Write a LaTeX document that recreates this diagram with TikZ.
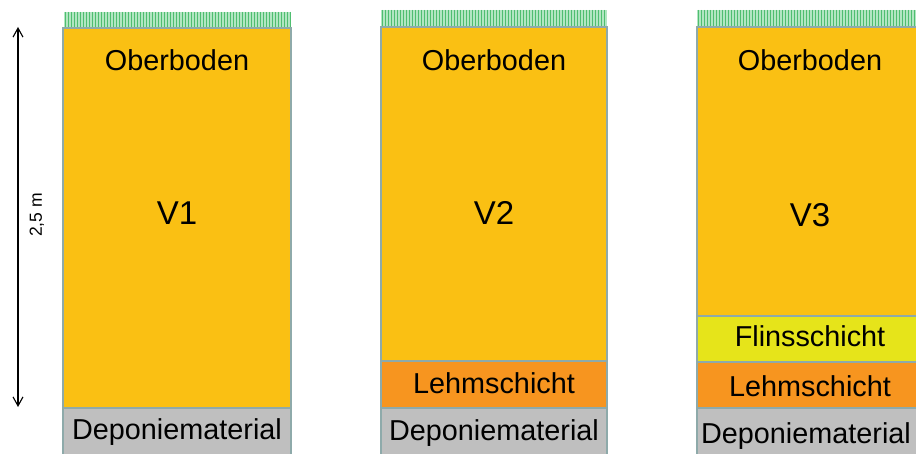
\documentclass[tikz,border=0pt]{standalone}
\usepackage{fontspec}
\setmainfont{Liberation Sans}
\usetikzlibrary{arrows.meta}
\definecolor{soil}{HTML}{FAC013}
\definecolor{lehm}{HTML}{F7951F}
\definecolor{flins}{HTML}{E6E41A}
\definecolor{depo}{HTML}{BFBFBF}
\definecolor{edge}{HTML}{8EAAAA}
\definecolor{grasslight}{HTML}{B2E6C2}
\definecolor{grassdark}{HTML}{4FBE70}
\tikzset{
  layer/.style={draw=edge, line width=2.4pt, inner sep=0pt, outer sep=0pt, anchor=north west, text=black},
  vlabel/.style={font=\fontsize{33}{36}\selectfont, text=black},
  toplabel/.style={font=\fontsize{28.8}{32}\selectfont, text=black},
  grassline/.style={grassdark, line width=0.9pt},
}
\begin{document}
\begin{tikzpicture}[x=1pt,y=-1pt]
\useasboundingbox (0,0) rectangle (916,454);
\fill[white] (0,0) rectangle (916,454);
\begin{scope}
\clip (0,0) rectangle (916,454);
% grass
\fill[grasslight] (64,12) rectangle (291,28);
\foreach \gx in {65,68,...,290} \draw[grassline] (\gx,12) -- (\gx,28);
\fill[grasslight] (381,10) rectangle (607,27);
\foreach \gx in {382,385,...,606} \draw[grassline] (\gx,10) -- (\gx,27);
\fill[grasslight] (697,10) rectangle (923,27);
\foreach \gx in {698,701,...,922} \draw[grassline] (\gx,10) -- (\gx,27);
% column 1
\node[layer, fill=soil, minimum width=228pt, minimum height=380pt] (c1soil) at (63,28) {};
\node[layer, fill=depo, minimum width=228pt, minimum height=50pt] (c1depo) at (63,408) {};
% column 2
\node[layer, fill=soil, minimum width=226pt, minimum height=334pt] (c2soil) at (381,27) {};
\node[layer, fill=lehm, minimum width=226pt, minimum height=47pt] (c2lehm) at (381,361) {};
\node[layer, fill=depo, minimum width=226pt, minimum height=50pt] (c2depo) at (381,408) {};
% column 3
\node[layer, fill=soil, minimum width=226pt, minimum height=289pt] (c3soil) at (697,27) {};
\node[layer, fill=flins, minimum width=226pt, minimum height=46pt] (c3flins) at (697,316) {};
\node[layer, fill=lehm, minimum width=226pt, minimum height=46pt] (c3lehm) at (697,362) {};
\node[layer, fill=depo, minimum width=226pt, minimum height=50pt] (c3depo) at (697,408) {};
\end{scope}
% labels
\node[toplabel] (t1) at (177,60) {Oberboden};
\node[toplabel] (t2) at (494,60) {Oberboden};
\node[toplabel] (t3) at (810,60) {Oberboden};
\node[vlabel] (v1) at (177,213) {V1};
\node[vlabel] (v2) at (494,213) {V2};
\node[vlabel] (v3) at (810,215) {V3};
\node[toplabel] (l2) at (494,383) {Lehmschicht};
\node[toplabel] (f3) at (810,336) {Flinsschicht};
\node[toplabel] (l3) at (810,386) {Lehmschicht};
\node[toplabel] (d1) at (177,432) {Deponiematerial};
\node[toplabel] (d2) at (494,433) {Deponiematerial};
\node[toplabel] (d3) at (806,436) {Deponiematerial};
% height arrow
\coordinate (atop) at (18,27);
\coordinate (abot) at (18,407);
\draw[line width=1.1pt, {Straight Barb[length=9pt,width=10pt]}-{Straight Barb[length=9pt,width=10pt]}] (atop) -- (abot);
\node[rotate=90, font=\fontsize{17.5}{20}\selectfont] (alab) at (37,215) {2,5 m};
\end{tikzpicture}
\end{document}
